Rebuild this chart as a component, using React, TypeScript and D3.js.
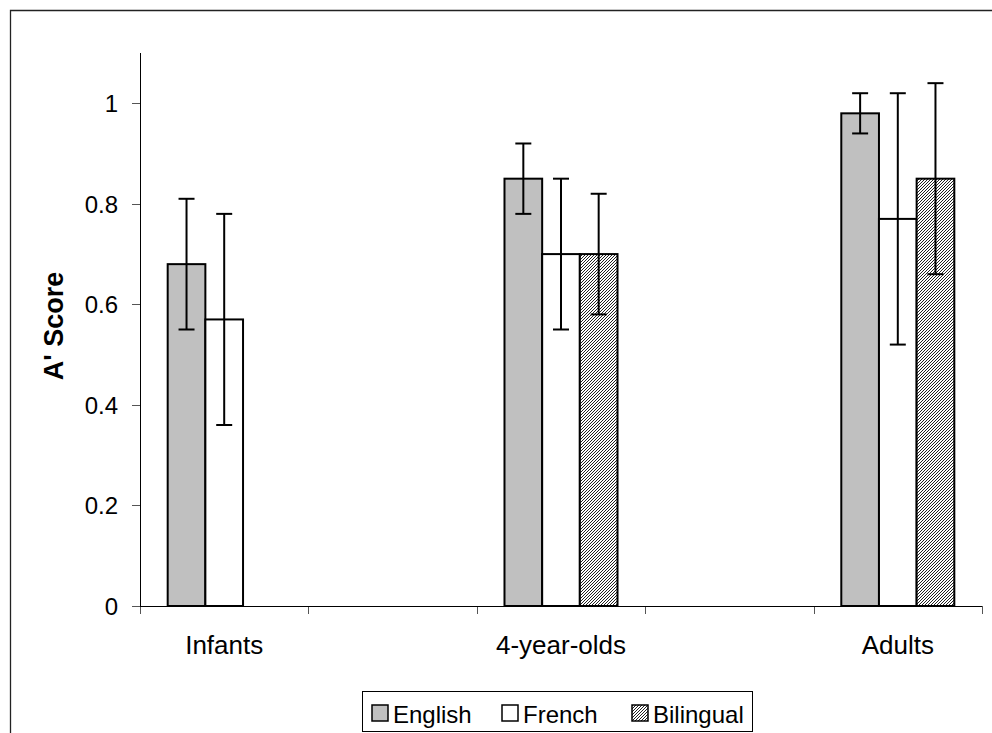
import { useRef, useEffect } from "react";
import * as d3 from "d3";

// Excel-style layout: blank slots between the three groups
const categories = ["Infants", "", "4-year-olds", " ", "Adults"];
const seriesNames = ["English", "French", "Bilingual"];
const english = [0.68, null, 0.85, null, 0.98];
const englishErr = [0.13, null, 0.07, null, 0.04];
const french = [0.57, null, 0.7, null, 0.77];
const frenchErr = [0.21, null, 0.15, null, 0.25];
const bilingual = [null, null, 0.7, null, 0.85];
const bilingualErr = [null, null, 0.12, null, 0.19];
const yTicks = [0, 0.2, 0.4, 0.6, 0.8, 1];

const fills = ["#c0c0c0", "#ffffff", "url(#hatch)"];

export default function App() {
  const svgRef = useRef<SVGSVGElement | null>(null);

  useEffect(() => {
    const svg = d3.select(svgRef.current);
    svg.selectAll("*").remove();
    const width = 992;
    const height = 733;
    const font = "'Liberation Sans', Arial, sans-serif";

    const defs = svg.append("defs");
    const pat = defs
      .append("pattern")
      .attr("id", "hatch")
      .attr("patternUnits", "userSpaceOnUse")
      .attr("width", 3)
      .attr("height", 3);
    pat.append("rect").attr("width", 3).attr("height", 3).attr("fill", "#ffffff");
    [0, 1, 2].forEach((i) => {
      pat
        .append("rect")
        .attr("x", 2 - i)
        .attr("y", i)
        .attr("width", 1)
        .attr("height", 1)
        .attr("fill", "#222");
    });

    svg
      .append("rect")
      .attr("width", width)
      .attr("height", height)
      .attr("fill", "#fff");

    // outer frame (top and left visible)
    svg
      .append("path")
      .attr("d", `M10.5,${height} V10.5 H${width}`)
      .attr("fill", "none")
      .attr("stroke", "#222")
      .attr("stroke-width", 1.3);

    const left = 140;
    const right = 982;
    const top = 53;
    const bottom = 606;

    const x = d3.scaleBand().domain(categories).range([left, right]);
    const y = d3.scaleLinear().domain([0, 1.1]).range([bottom, top]);

    const barW = x.bandwidth() / (3 + 1.47);
    const groupOffset = (x.bandwidth() - barW * 3) / 2;

    const g = svg.append("g");

    // y axis
    g.append("line")
      .attr("x1", left + 0.5)
      .attr("x2", left + 0.5)
      .attr("y1", top)
      .attr("y2", bottom)
      .attr("stroke", "#000");
    yTicks.forEach((t) => {
      const yy = Math.round(y(t)) + 0.5;
      g.append("line")
        .attr("x1", left - 8)
        .attr("x2", left)
        .attr("y1", yy)
        .attr("y2", yy)
        .attr("stroke", "#555");
      g.append("text")
        .attr("x", left - 22)
        .attr("y", yy)
        .attr("dy", "0.36em")
        .attr("text-anchor", "end")
        .style("font-family", font)
        .style("font-size", "24px")
        .text(String(t));
    });

    // x axis ticks between categories
    const edges = [...categories.map((c) => x(c)!), right];
    edges.forEach((e) => {
      const xx = Math.round(e) + 0.5;
      g.append("line")
        .attr("x1", xx)
        .attr("x2", xx)
        .attr("y1", bottom)
        .attr("y2", bottom + 8)
        .attr("stroke", "#555");
    });

    categories.forEach((c) => {
      if (!c.trim()) return;
      g.append("text")
        .attr("x", x(c)! + x.bandwidth() / 2)
        .attr("y", 654)
        .attr("text-anchor", "middle")
        .style("font-family", font)
        .style("font-size", "26px")
        .text(c);
    });

    const series = [
      { vals: english, errs: englishErr },
      { vals: french, errs: frenchErr },
      { vals: bilingual, errs: bilingualErr },
    ];

    series.forEach((s, si) => {
      s.vals.forEach((v, ci) => {
        if (v == null) return;
        const x0 = x(categories[ci])! + groupOffset + si * barW;
        g.append("rect")
          .attr("x", x0)
          .attr("y", y(v))
          .attr("width", barW)
          .attr("height", bottom - y(v))
          .attr("fill", fills[si])
          .attr("stroke", "#000")
          .attr("stroke-width", 2);
      });
    });

    g.append("line")
      .attr("x1", left)
      .attr("x2", right)
      .attr("y1", bottom + 0.5)
      .attr("y2", bottom + 0.5)
      .attr("stroke", "#000");

    // error bars
    series.forEach((s, si) => {
      s.vals.forEach((v, ci) => {
        if (v == null) return;
        const e = s.errs[ci]!;
        const cx = x(categories[ci])! + groupOffset + si * barW + barW / 2;
        const cap = 8;
        g.append("line")
          .attr("x1", cx)
          .attr("x2", cx)
          .attr("y1", y(v + e))
          .attr("y2", y(v - e))
          .attr("stroke", "#000")
          .attr("stroke-width", 2);
        [v + e, v - e].forEach((yy) => {
          g.append("line")
            .attr("x1", cx - cap)
            .attr("x2", cx + cap)
            .attr("y1", y(yy))
            .attr("y2", y(yy))
            .attr("stroke", "#000")
            .attr("stroke-width", 2);
        });
      });
    });

    // y axis title
    svg
      .append("text")
      .attr("transform", `translate(63,326) rotate(-90)`)
      .attr("text-anchor", "middle")
      .style("font-family", font)
      .style("font-size", "27px")
      .style("font-weight", "bold")
      .text("A' Score");

    // legend
    const lg = svg.append("g");
    lg.append("rect")
      .attr("x", 362.5)
      .attr("y", 691.5)
      .attr("width", 390)
      .attr("height", 40)
      .attr("fill", "#fff")
      .attr("stroke", "#000")
      .attr("stroke-width", 1);
    const itemX = [372, 502, 632];
    seriesNames.forEach((n, i) => {
      lg.append("rect")
        .attr("x", itemX[i])
        .attr("y", 705)
        .attr("width", 16)
        .attr("height", 16)
        .attr("fill", fills[i])
        .attr("stroke", "#000")
        .attr("stroke-width", 1.5);
      lg.append("text")
        .attr("x", itemX[i] + 21)
        .attr("y", 723)
        .style("font-family", font)
        .style("font-size", "24px")
        .text(n);
    });
  }, []);

  return (
    <div style={{ position: "fixed", top: 0, left: 0, width: 992, height: 733 }}>
      <svg ref={svgRef} width={992} height={733} style={{ display: "block" }} />
    </div>
  );
}
